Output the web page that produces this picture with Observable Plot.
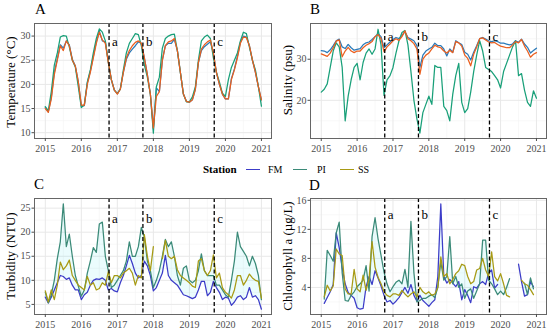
<!DOCTYPE html>
<html><head><meta charset="utf-8">
<script src="https://cdn.jsdelivr.net/npm/d3@7"></script>
<script src="https://cdn.jsdelivr.net/npm/@observablehq/plot@0.6"></script>
<style>
body{margin:0;background:#fff;}
#wrap{position:relative;width:550px;height:330px;overflow:hidden;font-family:"Liberation Serif","Times New Roman",serif;background:#fff;}
#wrap svg text{font-family:"Liberation Serif","Times New Roman",serif;}
.pnl{position:absolute;}
.tag{position:absolute;font-size:15px;line-height:15px;color:#000;}
.ylab{position:absolute;font-size:13px;line-height:13px;color:#000;white-space:nowrap;transform:translate(-50%,-50%) rotate(-90deg);}
.leg{position:absolute;line-height:12px;color:#000;white-space:nowrap;}
.sw{position:absolute;height:1.6px;width:14px;}
</style></head>
<body><div id="wrap"></div>
<script>
const stations = ["FM", "PI", "SS"];
const startYear = 2015;
const yearTicks = [2015, 2016, 2017, 2018, 2019, 2020, 2021];
const halfYears = [2015.5, 2016.5, 2017.5, 2018.5, 2019.5, 2020.5];
const eventLabels = ["a", "b", "c"];
const eventDates = [2016.77, 2017.71, 2019.69];
const serif = '"Liberation Serif", "Times New Roman", serif';

// Temperature (°C), monthly from Jan 2015
const temperatureFM = [15.2,14.3,17.3,22.5,25.3,28.2,27.5,29.0,28.2,25.2,23.8,20.5,
 15.5,15.6,20.3,22.7,25.8,28.8,31.0,29.0,28.8,24.7,21.0,18.8,
 18.1,19.1,22.5,25.2,26.5,27.3,28.0,28.8,28.5,25.5,22.0,18.0,
 10.8,19.3,18.5,25.0,28.0,28.5,28.5,29.3,27.0,22.5,18.0,16.5,
 16.3,16.8,19.0,24.5,27.0,27.8,28.3,28.8,26.5,22.5,20.0,18.0,
 17.0,17.0,21.2,23.2,25.8,28.7,30.0,29.8,28.0,25.0,22.5,19.5,16.8];
const temperaturePI = [15.4,14.5,18.5,24.0,26.5,29.8,30.1,30.0,27.7,25.0,23.6,19.5,
 15.2,15.8,20.5,23.0,26.5,29.5,31.5,30.8,29.0,24.5,21.0,18.8,
 18.1,19.0,23.0,26.5,28.5,29.5,30.5,30.3,28.0,24.0,21.5,18.0,
 9.9,19.5,21.5,27.5,29.5,30.0,30.3,30.4,27.0,22.5,18.0,16.4,
 16.4,17.4,19.5,25.0,29.0,29.8,30.2,29.5,25.5,22.5,20.5,18.2,
 17.5,21.0,23.5,25.0,26.5,29.0,30.8,30.5,27.7,25.0,23.0,19.5,15.5];
const temperatureSS = [15.0,14.2,17.0,22.0,25.0,28.0,27.0,29.0,28.0,25.0,23.8,20.5,
 15.7,15.7,20.0,22.5,25.5,28.5,30.8,29.2,28.5,24.5,21.0,18.8,
 18.0,19.0,22.5,25.5,27.0,28.0,28.7,29.0,28.5,25.5,22.0,18.0,
 11.0,17.5,18.5,25.0,28.0,28.8,29.0,29.5,27.0,22.5,18.0,16.5,
 16.3,16.8,19.0,24.5,27.3,28.2,28.8,29.2,26.5,22.5,20.0,18.0,
 17.0,17.0,21.0,23.0,25.5,28.5,29.8,29.7,28.0,25.0,22.5,19.5,16.8];

// Salinity (psu)
const salinityFM = [32.1,32.0,31.6,32.3,33.3,34.5,34.9,33.0,32.6,33.6,32.8,32.2,
 32.4,32.6,33.5,34.0,34.2,34.8,35.5,36.2,35.5,32.8,33.5,34.2,
 34.8,35.3,35.0,35.8,36.7,35.3,34.9,34.5,33.3,28.0,31.0,32.0,
 32.5,32.9,33.9,33.3,33.3,32.5,30.8,32.5,31.7,34.5,34.0,33.6,
 31.7,31.2,29.8,31.7,33.3,35.0,35.3,34.9,34.5,34.3,34.5,34.3,
 33.9,33.9,33.7,33.5,33.7,34.5,34.1,34.9,33.7,32.9,31.5,32.1,32.7];
const salinityPI = [22.0,22.7,24.0,28.0,32.0,34.0,33.0,28.0,15.0,21.0,25.0,28.0,
 29.0,25.0,29.2,31.5,32.5,31.2,32.5,37.3,33.5,21.2,25.0,26.0,
 28.0,31.5,34.5,36.5,37.0,33.5,27.0,20.0,15.5,12.0,17.0,19.0,
 21.0,19.0,28.5,28.0,28.0,18.5,17.5,15.0,21.5,26.0,29.0,19.5,
 17.0,18.0,22.0,27.0,31.0,34.5,32.0,28.0,27.5,27.0,26.0,25.0,
 23.0,27.0,29.0,31.0,33.0,34.5,26.0,26.5,22.5,19.5,18.5,22.3,20.5];
const salinitySS = [31.3,31.0,30.7,31.5,32.8,34.4,34.7,30.6,32.0,32.9,32.0,31.6,
 32.0,32.0,32.8,33.4,33.8,34.3,35.5,36.0,35.0,31.8,33.0,33.7,
 34.5,35.0,34.6,35.5,36.9,35.0,34.5,33.8,32.5,26.3,30.0,31.0,
 31.5,32.5,33.4,33.0,32.8,32.0,31.5,32.2,31.6,34.3,34.0,33.2,
 31.0,30.2,28.4,31.2,33.0,35.0,35.2,34.7,34.2,34.0,34.1,33.6,
 33.2,33.0,32.8,32.8,33.5,34.3,34.0,34.8,33.2,32.0,30.5,31.2,31.6];

// Turbidity (NTU)
const turbidityFM = [6.5,5.3,6.5,8.0,9.5,11.0,10.8,10.2,10.5,9.0,8.0,8.0,
 6.0,7.0,7.5,9.0,10.0,10.3,10.2,10.5,10.0,8.0,8.3,7.8,
 7.6,9.5,11.0,13.0,15.2,13.5,11.5,10.5,11.0,14.0,13.0,11.0,
 7.8,8.5,10.0,11.5,15.2,11.0,10.0,9.5,9.0,8.0,7.0,6.8,
 6.5,6.2,6.5,8.0,9.8,9.8,6.8,7.5,9.8,8.5,7.5,6.0,
 6.5,6.3,4.8,5.5,6.5,6.8,6.0,6.5,8.5,6.5,6.8,6.0,4.0];
const turbidityPI = [7.5,5.3,7.0,10.0,14.5,18.0,25.9,17.0,19.6,15.0,11.0,8.8,
 6.7,8.0,11.5,14.0,16.8,15.8,21.7,22.1,15.0,12.0,8.5,9.0,
 10.0,11.0,12.0,14.0,18.0,15.0,15.0,17.0,21.0,19.0,14.0,12.0,
 8.5,10.0,12.0,15.0,18.5,17.0,18.0,15.0,11.0,9.0,12.5,13.0,
 10.0,9.5,10.0,12.0,15.5,12.0,11.0,11.0,11.0,9.0,9.0,8.0,
 7.0,6.5,10.0,14.0,20.0,17.0,16.0,15.0,13.0,15.0,13.5,11.0,6.0];
const turbiditySS = [7.8,5.5,8.0,6.0,9.0,13.8,12.2,13.0,14.2,11.0,10.0,9.0,
 8.5,8.0,10.8,9.0,9.5,8.0,8.3,9.5,9.0,11.8,9.5,11.0,
 11.0,10.5,11.5,12.0,12.5,11.5,9.0,11.0,10.5,19.5,15.0,12.0,
 17.0,null,null,14.5,18.3,15.0,14.5,15.0,12.2,11.0,10.5,10.0,
 9.5,8.8,8.5,14.0,14.5,12.0,11.0,12.0,15.3,10.5,11.5,8.5,
 7.5,7.0,6.3,8.0,11.0,11.0,9.0,10.0,11.3,10.5,10.0,9.8,6.3];

// Chlorophyll a (µg/L)
const chlorophyllFM = [null,1.8,2.6,3.4,4.4,11.5,9.5,6.7,4.5,3.3,2.9,2.5,
 1.2,1.0,1.1,4.1,5.5,4.4,6.3,5.3,4.2,2.9,2.0,2.2,
 1.7,2.1,2.6,3.3,4.0,3.2,4.4,2.9,2.1,2.9,2.2,1.8,
 1.4,1.9,2.3,5.5,15.5,5.5,4.6,5.1,4.6,4.1,4.8,2.3,
 3.7,2.9,1.9,4.1,3.9,4.5,4.8,4.4,6.0,6.4,3.9,4.4,
 null,null,null,null,null,null,7.2,4.8,2.8,3.0,4.8,4.1,null];
const chlorophyllPI = [null,2.4,9.1,8.4,7.6,11.5,13.0,6.0,2.2,2.1,2.9,3.4,
 4.1,4.5,5.0,7.0,3.5,11.0,13.6,10.7,8.4,6.1,4.5,3.4,
 4.1,4.7,5.0,4.5,6.5,4.0,13.1,6.0,2.0,2.2,2.5,2.5,
 2.8,3.0,2.6,4.0,7.5,5.0,5.5,11.0,4.5,5.5,4.0,4.5,
 2.5,3.5,3.8,2.5,3.5,4.5,10.5,10.5,5.0,4.5,3.8,3.0,
 3.5,3.0,4.0,5.2,null,null,null,null,4.6,3.0,5.3,3.8,null];
const chlorophyllSS = [null,2.7,4.3,3.5,4.2,9.3,8.6,8.4,3.8,3.1,3.1,6.5,
 3.8,3.4,5.7,3.6,5.2,10.3,6.8,5.4,4.5,3.4,2.9,2.7,
 3.1,3.1,2.9,3.6,3.1,2.7,3.1,3.4,2.7,4.0,3.4,3.1,
 3.4,2.9,3.1,4.0,8.2,5.5,5.9,4.5,5.1,5.9,6.3,7.2,
 7.0,5.5,4.5,4.8,6.4,6.6,8.0,6.4,5.5,8.9,5.5,4.9,
 5.9,4.5,2.9,2.7,null,null,null,5.0,4.5,4.3,3.7,3.0,null];

const colorsAB = ["#2a7ab9", "#19a079", "#ea5f1f"];
const colorsCD = ["#3c3cc8", "#3b8a78", "#a89a14"];

function makeRows(series) {
  const out = [];
  stations.forEach((s, k) => series[k].forEach((v, i) =>
    out.push({date: startYear + i / 12, station: s, value: v})));
  return out;
}
function bandRows(series) {
  return series[0].map((_, i) => {
    const vals = series.map(s => s[i]).filter(v => v != null);
    return {date: startYear + i / 12,
      lo: vals.length ? d3.min(vals) : NaN,
      hi: vals.length ? d3.max(vals) : NaN};
  });
}

function panel(cfg) {
  const rows = makeRows(cfg.series);
  const marks = [
    Plot.ruleX(halfYears, {stroke: "#f3f3f3", strokeWidth: 0.6}),
    Plot.ruleY(cfg.yMinor, {stroke: "#f3f3f3", strokeWidth: 0.6}),
    Plot.ruleX(yearTicks, {stroke: "#e8e8e8", strokeWidth: 1}),
    Plot.ruleY(cfg.yTicks, {stroke: "#e8e8e8", strokeWidth: 1})
  ];
  if (cfg.band) marks.push(Plot.areaY(bandRows(cfg.series),
    {x: "date", y1: "lo", y2: "hi", fill: "#00d8e0", fillOpacity: 0.08}));
  marks.push(
    Plot.line(rows, {x: "date", y: "value", z: "station", stroke: "station", strokeWidth: 1.25}),
    Plot.ruleX(eventDates, {stroke: "#000", strokeWidth: 1.3, strokeDasharray: "4,2.5"}),
    Plot.text(eventLabels, {x: (d, i) => eventDates[i], text: d => d, frameAnchor: "top",
      dy: cfg.labelDy, dx: 3, textAnchor: "start", fontSize: 13, fontFamily: serif, fill: "#000"}),
    Plot.frame({stroke: "#666", strokeWidth: 1}),
    Plot.axisX({ticks: yearTicks, tickFormat: d => String(d), tickSize: 3, tickPadding: 3.5,
      label: null, fontFamily: serif, fontSize: 10}),
    Plot.axisY({ticks: cfg.yTicks, tickSize: 2.5, tickPadding: 1.5, label: null,
      fontFamily: serif, fontSize: 10})
  );
  return Plot.plot({
    width: 275, height: cfg.height,
    marginTop: 23, marginBottom: cfg.marginBottom, marginLeft: cfg.marginLeft, marginRight: 4,
    x: {domain: [2014.7, 2021.28]},
    y: {domain: cfg.yDomain},
    color: {domain: stations, range: cfg.colors},
    style: {fontFamily: serif, fontSize: "10px", color: "#4d4d4d", background: "transparent", overflow: "visible"},
    marks
  });
}

const wrap = document.getElementById("wrap");
function place(node, left, top) {
  node.classList.add("pnl");
  node.style.left = left + "px";
  node.style.top = top + "px";
  wrap.appendChild(node);
}
function addDiv(cls, text, css) {
  const d = document.createElement("div");
  d.className = cls;
  d.textContent = text;
  Object.assign(d.style, css);
  wrap.appendChild(d);
  return d;
}

place(panel({series: [temperatureFM, temperaturePI, temperatureSS], colors: colorsAB,
  yDomain: [8.8, 32.6], yTicks: [10, 15, 20, 25, 30], yMinor: [12.5, 17.5, 22.5, 27.5],
  labelDy: 13, height: 165, marginBottom: 27, marginLeft: 34}), 0, 0);
place(panel({series: [salinityFM, salinityPI, salinitySS], colors: colorsAB,
  yDomain: [10.7, 38.7], yTicks: [20, 30], yMinor: [15, 25, 35],
  labelDy: 8, height: 165, marginBottom: 27, marginLeft: 35}), 275, 0);
place(panel({series: [turbidityFM, turbidityPI, turbiditySS], colors: colorsCD, band: true,
  yDomain: [2.9, 27.0], yTicks: [5, 10, 15, 20, 25], yMinor: [7.5, 12.5, 17.5, 22.5],
  labelDy: 15.5, height: 155, marginBottom: 16, marginLeft: 34}), 0, 175);
place(panel({series: [chlorophyllFM, chlorophyllPI, chlorophyllSS], colors: colorsCD, band: true,
  yDomain: [0.27, 16.25], yTicks: [4, 8, 12, 16], yMinor: [2, 6, 10, 14],
  labelDy: 11, height: 155, marginBottom: 16, marginLeft: 35}), 275, 175);

addDiv("tag", "A", {left: "35px", top: "2px"});
addDiv("tag", "B", {left: "310px", top: "2px"});
addDiv("tag", "C", {left: "34px", top: "177px"});
addDiv("tag", "D", {left: "309px", top: "178px"});

addDiv("ylab", "Temperature (°C)", {left: "10px", top: "82px"});
addDiv("ylab", "Salinity (psu)", {left: "287px", top: "80px"});
addDiv("ylab", "Turbidity (NTU)", {left: "10px", top: "256px"});
addDiv("ylab", "Chlorophyll a (µg/L)", {left: "287px", top: "256px"});

// legend
addDiv("leg", "Station", {left: "203px", top: "163px", fontSize: "11px", fontWeight: "bold"});
const legX = [246, 293, 340];
const legTextX = [268, 317, 358];
stations.forEach((s, k) => {
  const sw = document.createElement("div");
  sw.className = "sw";
  Object.assign(sw.style, {left: legX[k] + "px", top: "168.5px", background: colorsCD[k]});
  wrap.appendChild(sw);
  addDiv("leg", s, {left: legTextX[k] + "px", top: "164px", fontSize: "10px"});
});
</script>
</body></html>
